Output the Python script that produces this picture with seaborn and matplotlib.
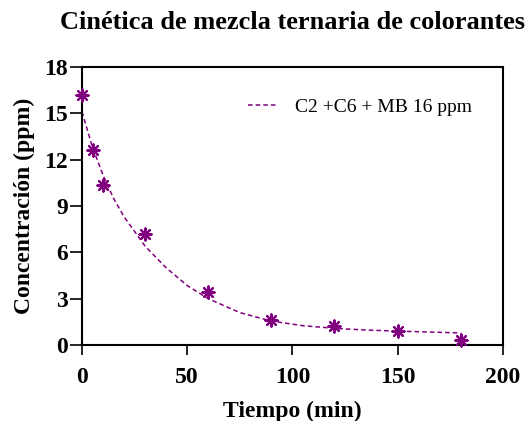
import matplotlib
matplotlib.use('Agg')
import matplotlib.pyplot as plt
import numpy as np
import pandas as pd
import seaborn as sns

# datos experimentales
tiempo = [0, 5, 10, 30, 60, 90, 120, 150, 180]
conc = [16.2, 12.6, 10.35, 7.2, 3.4, 1.6, 1.2, 0.9, 0.35]

# curva de ajuste
t_ajuste = [0, 5, 10, 15, 20, 30, 40, 50, 60, 75, 90, 105, 120, 135, 150, 165, 180]
c_ajuste = [15.1, 12.8, 11.0, 9.5, 8.3, 6.4, 5.0, 3.85, 3.0, 2.1, 1.55, 1.25, 1.08, 0.97, 0.9, 0.84, 0.78]

sns.set_style('ticks', rc={'text.color': 'black', 'axes.labelcolor': 'black',
                           'xtick.color': 'black', 'ytick.color': 'black',
                           'axes.edgecolor': 'black'})
plt.rcParams['font.family'] = ['Liberation Serif', 'DejaVu Serif']

df = pd.DataFrame({'t': tiempo, 'c': conc})
df_fit = pd.DataFrame({'t': t_ajuste, 'c': c_ajuste})

fig = plt.figure(figsize=(5.31, 4.21), dpi=100)
ax = fig.add_axes([0.1544, 0.1805, 0.7925, 0.6604])

color = '#800080'
sns.lineplot(data=df_fit, x='t', y='c', ax=ax, color=color, linestyle=(0, (3, 2)),
             linewidth=1.1, label='C2 +C6 + MB 16 ppm')
sns.scatterplot(data=df, x='t', y='c', ax=ax, color=color, marker=(8, 2, 0), s=75,
                linewidth=1.6, edgecolor=color, legend=False, clip_on=False, zorder=5)

ax.set_xlim(0, 200)
ax.set_ylim(0, 18)
ax.set_xticks([0, 50, 100, 150, 200])
ax.set_yticks([0, 3, 6, 9, 12, 15, 18])
ax.tick_params(direction='out', width=1.2, labelsize=17)
ax.tick_params(axis='x', length=7, pad=9)
ax.tick_params(axis='y', length=8.5, pad=1.5)
for lab in ax.get_xticklabels() + ax.get_yticklabels():
    lab.set_fontweight('bold')
for sp in ax.spines.values():
    sp.set_visible(True)
    sp.set_linewidth(1.5)

ax.set_xlabel('Tiempo (min)', fontsize=17, fontweight='bold', labelpad=9)
ax.set_ylabel('Concentración (ppm)', fontsize=17, fontweight='bold', labelpad=7)
ax.set_title('Cinética de mezcla ternaria de colorantes', fontsize=19, fontweight='bold', pad=27)

leg = ax.legend(loc='upper right', frameon=False, fontsize=14, handlelength=1.5,
                handletextpad=0.9, bbox_to_anchor=(0.968, 0.95))

fig.savefig('out.png', dpi=100)
